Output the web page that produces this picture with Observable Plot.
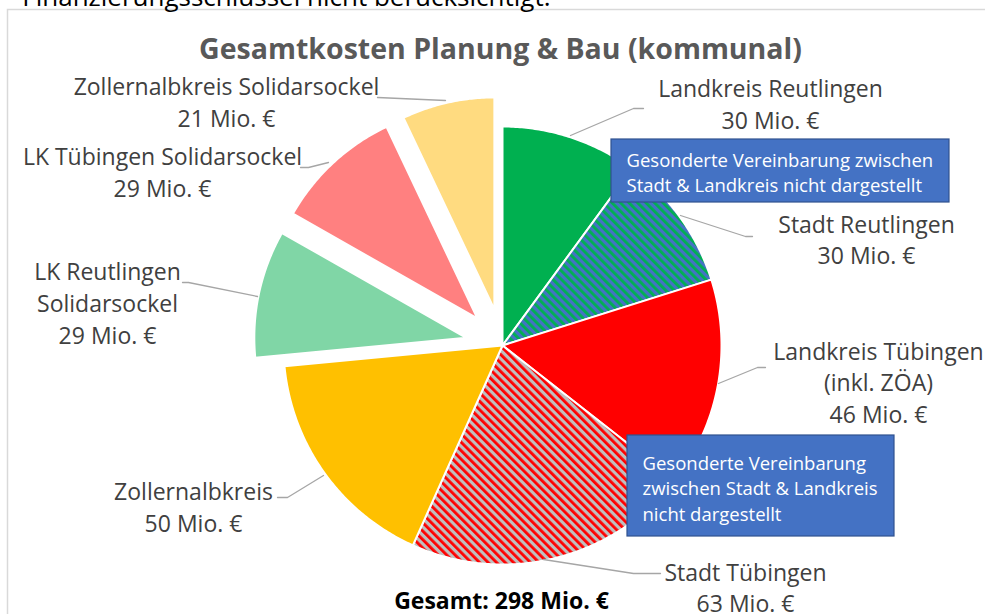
<!DOCTYPE html>
<html><head><meta charset="utf-8">
<script src="https://cdn.jsdelivr.net/npm/d3@7"></script>
<script src="https://cdn.jsdelivr.net/npm/@observablehq/plot@0.6"></script>
<style>
body{margin:0;background:#fff;}
#chart svg{display:block;}
</style>
</head><body><div id="chart"></div>
<script>
// ---- data ----
const categories = ["Landkreis Reutlingen","Stadt Reutlingen","Landkreis Tübingen","Stadt Tübingen","Zollernalbkreis","LK Reutlingen Solidarsockel","LK Tübingen Solidarsockel","Zollernalbkreis Solidarsockel"];
const values = [30, 30, 46, 63, 50, 29, 29, 21];
const labelNames = ["Landkreis Reutlingen","Stadt Reutlingen","Landkreis Tübingen\n(inkl. ZÖA)","Stadt Tübingen","Zollernalbkreis","LK Reutlingen\nSolidarsockel","LK Tübingen Solidarsockel","Zollernalbkreis Solidarsockel"];
const explodedSlices = ["LK Reutlingen Solidarsockel","LK Tübingen Solidarsockel","Zollernalbkreis Solidarsockel"];
const titleText = "Gesamtkosten Planung & Bau (kommunal)";
const topText = "Finanzierungsschlüssel nicht berücksichtigt.";

// ---- styles ----
const fills = ["#00B050","url(#hatchReut)","#FF0000","url(#hatchTueb)","#FFC000","#80D6A6","#FF8080","#FFDB80"];

// ---- layout ----
const W = 985, H = 614;
const center = [502, 345];
const R = 219, Rx = 212, explodeDist = 37;
const labelPos = [ // [center x, first baseline y, line gap]
  [770, 96, 32],[866, 232, 31],[878, 359, 31.5],[745, 580, 31],
  [193, 499, 32],[107, 279, 32],[162, 164, 32],[226, 94, 32]
];
const leaders = [
  [[570,135],[633,108],[643,108]],
  [[680,215],[745,236],[752,236]],
  [[718,383],[757,367],[765,367]],
  [[543,559],[633,573],[660,573]],
  [[323,475],[287,497],[277,497]],
  [[257,296],[188,282],[182,282]],
  [[328,162],[308,167],[300,167]],
  [[445,100],[377,97]]
];
const boxes = [
  {x1:611, x2:949, y1:139, y2:202, tx:626, ty:166, gap:25, lines:["Gesonderte Vereinbarung zwischen","Stadt & Landkreis nicht dargestellt"]},
  {x1:627, x2:894, y1:435, y2:536, tx:642, ty:469, gap:25.5, lines:["Gesonderte Vereinbarung","zwischen Stadt & Landkreis","nicht dargestellt"]}
];

// ---- geometry from values ----
const arcs = d3.pie().sort(null).startAngle(0).endAngle(2*Math.PI)(values);
const sliceMarks = arcs.map((a, i) => {
  const isEx = explodedSlices.includes(categories[i]);
  const mid = (a.startAngle + a.endAngle) / 2;
  const cx = center[0] + (isEx ? explodeDist * Math.sin(mid) : 0);
  const cy = center[1] - (isEx ? explodeDist * Math.cos(mid) : 0);
  const r = isEx ? Rx : R;
  const pts = [{x: cx, y: cy}];
  const n = Math.max(8, Math.ceil((a.endAngle - a.startAngle) / 0.01));
  for (let k = 0; k <= n; k++) {
    const t = a.startAngle + (a.endAngle - a.startAngle) * k / n;
    pts.push({x: cx + r * Math.sin(t), y: cy - r * Math.cos(t)});
  }
  return Plot.line(pts, {x: "x", y: "y", curve: "linear-closed", fill: fills[i], stroke: "white", strokeWidth: 2, strokeLinejoin: "round"});
});

const labelRows = [];
categories.forEach((c, i) => {
  const lines = labelNames[i].split("\n").concat([`${values[i]} Mio. €`]);
  const [lx, ly, gap] = labelPos[i];
  lines.forEach((t, j) => labelRows.push({x: lx, y: ly + j * gap, text: t}));
});
const leaderRows = leaders.flatMap((pts, i) => pts.map(p => ({x: p[0], y: p[1], k: i})));
const boxTextRows = boxes.flatMap(b => b.lines.map((t, j) => ({x: b.tx, y: b.ty + j * b.gap, text: t})));
const total = d3.sum(values);

const plot = Plot.plot({
  width: W, height: H, margin: 0,
  x: {domain: [0, W], range: [0, W], axis: null},
  y: {domain: [0, H], range: [0, H], axis: null},
  style: {fontFamily: "'Open Sans', sans-serif", background: "white", overflow: "hidden"},
  marks: [
    Plot.rect([{x1: 7.5, x2: 1000, y1: 9.5, y2: 640}], {x1: "x1", x2: "x2", y1: "y1", y2: "y2", fill: "white", stroke: "#D9D9D9", strokeWidth: 1.5}),
    Plot.text([{x: 550, y: 5, text: topText}], {x: "x", y: "y", text: "text", textAnchor: "end", lineAnchor: "bottom", fontSize: 26, fill: "#000"}),
    Plot.text([{x: 500, y: 58, text: titleText}], {x: "x", y: "y", text: "text", lineAnchor: "bottom", fontSize: 28.5, fontWeight: "bold", fill: "#595959"}),
    ...sliceMarks,
    Plot.line(leaderRows, {x: "x", y: "y", z: "k", stroke: "#A6A6A6", strokeWidth: 1.3}),
    Plot.text(labelRows, {x: "x", y: "y", text: "text", lineAnchor: "bottom", fontSize: 23, fill: "#404040"}),
    Plot.rect(boxes, {x1: "x1", x2: "x2", y1: "y1", y2: "y2", fill: "#4472C4", stroke: "#2F528F", strokeWidth: 1.2}),
    Plot.text(boxTextRows, {x: "x", y: "y", text: "text", textAnchor: "start", lineAnchor: "bottom", fontSize: 18.5, fill: "white"}),
    Plot.text([{x: 501, y: 608, text: `Gesamt: ${total} Mio. €`}], {x: "x", y: "y", text: "text", lineAnchor: "bottom", fontSize: 23, fontWeight: "bold", fill: "#000"})
  ]
});

// hatch pattern definitions
const ns = "http://www.w3.org/2000/svg";
const defs = document.createElementNS(ns, "defs");
defs.innerHTML = `
<pattern id="hatchReut" patternUnits="userSpaceOnUse" width="6" height="6" patternTransform="rotate(-45)">
  <rect width="6" height="6" fill="#4472C4"/><rect width="2.8" height="6" fill="#00B050"/>
</pattern>
<pattern id="hatchTueb" patternUnits="userSpaceOnUse" width="6" height="6" patternTransform="rotate(-45)">
  <rect width="6" height="6" fill="#BFBFBF"/><rect width="2.8" height="6" fill="#FF0000"/>
</pattern>`;
plot.insertBefore(defs, plot.firstChild);
document.getElementById("chart").appendChild(plot);
</script>
</body></html>
